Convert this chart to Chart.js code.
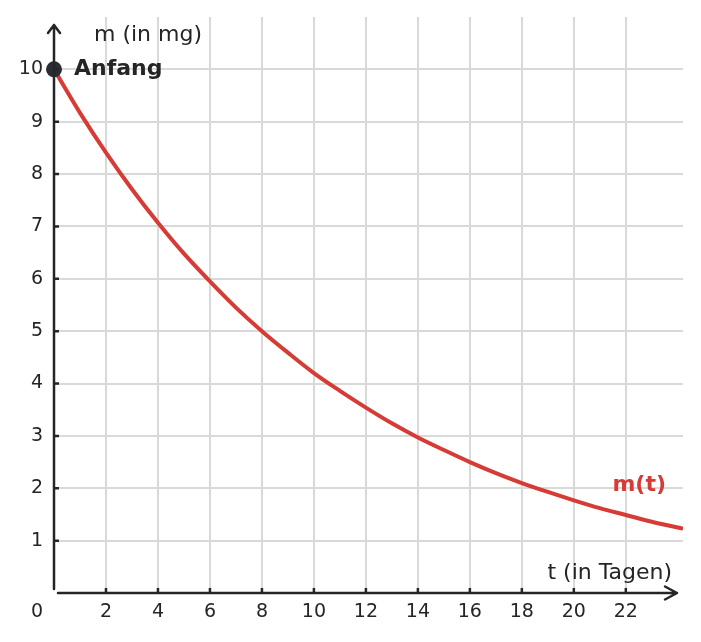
<!DOCTYPE html>
<html lang="de">
<head>
    <meta charset="UTF-8">
    <title>Zerfall m(t)</title>
    <script src="https://cdn.jsdelivr.net/npm/chart.js"></script>
    <style>
        html, body { margin: 0; padding: 0; background: #fff; }
        #wrap { width: 701px; height: 642px; }
    </style>
</head>
<body>
    <div id="wrap"><canvas id="decayChart" width="701" height="642"></canvas></div>

    <script>
        // values
        var days = [0, 1, 2, 3, 4, 5, 6, 7, 8, 9, 10, 11, 12, 13, 14, 15, 16, 17, 18, 19, 20, 21, 22, 23, 24, 24.2];
        var mass = [10, 9.17, 8.41, 7.71, 7.07, 6.48, 5.95, 5.45, 5.0, 4.59, 4.2, 3.86, 3.54, 3.24, 2.97, 2.73, 2.5, 2.29, 2.1, 1.93, 1.77, 1.62, 1.49, 1.36, 1.25, 1.23];
        var xTicks = [2, 4, 6, 8, 10, 12, 14, 16, 18, 20, 22];
        var yTicks = [1, 2, 3, 4, 5, 6, 7, 8, 9, 10];
        var startPoint = { x: 0, y: 10 };

        var ink = '#252525';
        var red = '#d63b35';
        var font = 'DejaVu Sans';

        // axes with arrows, inner tick marks and the text labels
        var overlay = {
            id: 'overlay',
            afterDatasetsDraw: function (chart) {
                var ctx = chart.ctx;
                var xs = chart.scales.x, ys = chart.scales.y;
                var x0 = xs.getPixelForValue(0), y0 = ys.getPixelForValue(0);
                var right = chart.chartArea.right, top = chart.chartArea.top;
                ctx.save();
                ctx.strokeStyle = ink;
                ctx.lineWidth = 2.5;
                ctx.lineCap = 'round';
                ctx.lineJoin = 'round';

                // y axis
                ctx.beginPath();
                ctx.moveTo(x0, y0 - 4);
                ctx.lineTo(x0, top + 8);
                ctx.moveTo(x0 - 6, top + 16);
                ctx.lineTo(x0, top + 8);
                ctx.lineTo(x0 + 6, top + 16);
                ctx.stroke();

                // x axis
                ctx.beginPath();
                ctx.moveTo(x0 + 4, y0);
                ctx.lineTo(right - 6, y0);
                ctx.moveTo(right - 18, y0 - 6.5);
                ctx.lineTo(right - 6, y0);
                ctx.lineTo(right - 18, y0 + 6.5);
                ctx.stroke();

                // tick marks
                ctx.lineCap = 'butt';
                ctx.beginPath();
                yTicks.forEach(function (v) {
                    var p = ys.getPixelForValue(v);
                    ctx.moveTo(x0, p);
                    ctx.lineTo(x0 + 5, p);
                });
                xTicks.forEach(function (v) {
                    var p = xs.getPixelForValue(v);
                    ctx.moveTo(p, y0);
                    ctx.lineTo(p, y0 - 5);
                });
                ctx.stroke();

                ctx.fillStyle = ink;
                ctx.textBaseline = 'middle';
                ctx.font = '19px "' + font + '"';
                ctx.textAlign = 'center';
                ctx.fillText('0', x0 - 17, y0 + 19);

                ctx.font = '22px "' + font + '"';
                ctx.textAlign = 'left';
                ctx.fillText('m (in mg)', x0 + 40, top + 18);
                ctx.textAlign = 'right';
                ctx.fillText('t (in Tagen)', right - 11, y0 - 20);

                ctx.font = 'bold 22px "' + font + '"';
                ctx.textAlign = 'left';
                ctx.fillText('Anfang', xs.getPixelForValue(startPoint.x) + 20, ys.getPixelForValue(startPoint.y));

                ctx.fillStyle = red;
                ctx.textAlign = 'right';
                ctx.fillText('m(t)', right - 17, ys.getPixelForValue(2.06));
                ctx.restore();
            }
        };

        var ctx = document.getElementById('decayChart').getContext('2d');
        var decayChart = new Chart(ctx, {
            type: 'scatter',
            data: {
                datasets: [{
                    label: 'Anfang',
                    data: [startPoint],
                    pointRadius: 8,
                    pointBackgroundColor: '#2a2d33',
                    pointBorderWidth: 0,
                    clip: false,
                    order: 0
                }, {
                    label: 'm(t)',
                    data: days.map(function (d, i) { return { x: d, y: mass[i] }; }),
                    showLine: true,
                    borderColor: red,
                    borderWidth: 4,
                    pointRadius: 0,
                    cubicInterpolationMode: 'monotone',
                    order: 1
                }]
            },
            options: {
                responsive: false,
                animation: false,
                layout: { padding: { top: 17, right: 18, left: 0, bottom: 0 } },
                plugins: {
                    legend: { display: false },
                    tooltip: { enabled: false }
                },
                scales: {
                    x: {
                        type: 'linear',
                        min: 0,
                        max: 24.2,
                        afterBuildTicks: function (s) { s.ticks = xTicks.map(function (v) { return { value: v }; }); },
                        afterFit: function (s) { s.height = 49; s.paddingLeft = 0; s.paddingRight = 0; },
                        border: { display: false },
                        grid: { color: '#d9d9d9', lineWidth: 2, drawTicks: false },
                        ticks: { padding: 8, color: ink, font: { family: font, size: 19 } }
                    },
                    y: {
                        min: 0,
                        max: 11,
                        afterBuildTicks: function (s) { s.ticks = yTicks.map(function (v) { return { value: v }; }); },
                        afterFit: function (s) { s.width = 54; s.paddingTop = 0; s.paddingBottom = 0; },
                        border: { display: false },
                        grid: { color: '#d9d9d9', lineWidth: 2, drawTicks: false },
                        ticks: { padding: 11, color: ink, font: { family: font, size: 19 } }
                    }
                }
            },
            plugins: [overlay]
        });
    </script>
</body>
</html>
